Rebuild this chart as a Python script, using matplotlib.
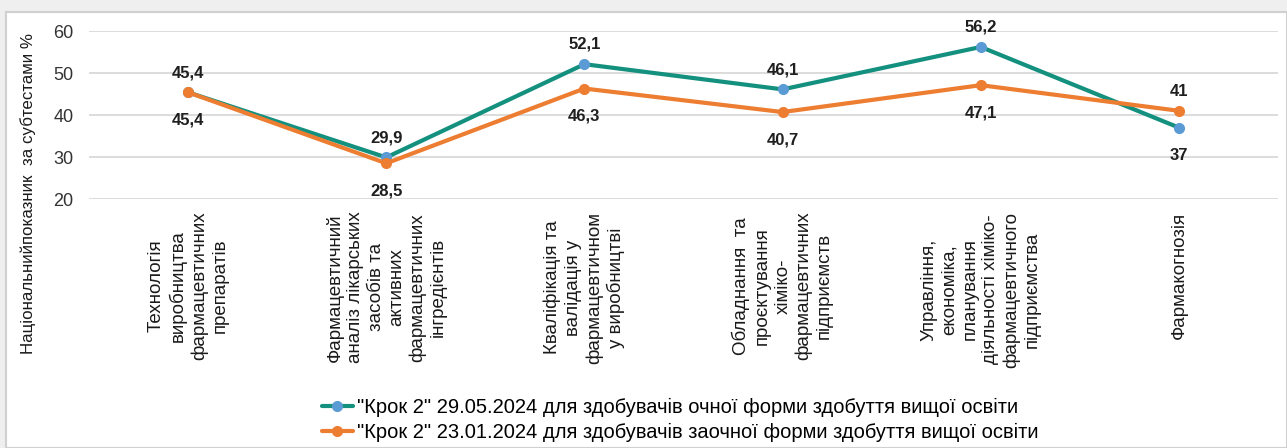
import matplotlib
matplotlib.use("Agg")
import matplotlib.pyplot as plt
from matplotlib.patches import Rectangle

plt.rcParams['font.family'] = ['Liberation Sans', 'DejaVu Sans']

categories = [
    "Технологія\nвиробництва\nфармацевтичних\nпрепаратів",
    "Фармацевтичний\nаналіз лікарських\nзасобів та\nактивних\nфармацевтичних\nінгредієнтів",
    "Кваліфікація та\nвалідація у\nфармацевтичном\nу виробництві",
    "Обладнання  та\nпроєктування\nхіміко-\nфармацевтичних\nпідприємств",
    "Управління,\nекономіка,\nпланування\nдіяльності хіміко-\nфармацевтичного\nпідприємства",
    "Фармакогнозія",
]
series1_name = '"Крок 2" 29.05.2024 для здобувачів очної форми здобуття вищої освіти'
series2_name = '"Крок 2" 23.01.2024 для здобувачів заочної форми здобуття вищої освіти'
series1 = [45.4, 29.9, 52.1, 46.1, 56.2, 37]
series2 = [45.4, 28.5, 46.3, 40.7, 47.1, 41]
s1_above = [True, True, True, True, True, False]
s2_above = [False, False, False, False, False, True]
yticks = [20, 30, 40, 50, 60]
ylabel = "Національнийпоказник  за субтестами %"

W, H = 1287, 448
fig = plt.figure(figsize=(W / 100, H / 100), dpi=100)
fig.patch.set_facecolor('#efefef')
bg = Rectangle((6 / W, 0), 1 - 6 / W, 1 - 12 / H, transform=fig.transFigure,
               facecolor='white', edgecolor='#d0d0d0', linewidth=1.5, zorder=-10)
fig.add_artist(bg)

ax = fig.add_axes([89 / W, 1 - 199 / H, (1278 - 89) / W, (199 - 31) / H])
ax.set_zorder(1)
ax.set_facecolor('none')
x = list(range(len(categories)))
teal = '#14907f'
orange = '#ed7d31'
ax.plot(x, series1, color=teal, lw=3, marker='o', ms=7, mfc='#5b9bd5', mec='#5b9bd5',
        label=series1_name, zorder=3, solid_capstyle='round')
ax.plot(x, series2, color=orange, lw=3, marker='o', ms=7, mfc=orange, mec=orange,
        label=series2_name, zorder=4, solid_capstyle='round')

def fmt(v):
    return ('%g' % v).replace('.', ',')

def put_labels(vals, above):
    for xi, v, up in zip(x, vals, above):
        ax.annotate(fmt(v), (xi, v), xytext=(0, 11 if up else -23), textcoords='offset points',
                    ha='center', va='baseline', fontsize=12, fontweight='bold', color='#1f1f1f')

put_labels(series1, s1_above)
put_labels(series2, s2_above)

ax.set_ylim(20, 60)
ax.set_xlim(-0.5, len(categories) - 0.5)
ax.set_yticks(yticks)
ax.set_yticklabels([str(t) for t in yticks], fontsize=13, color='#333333')
ax.tick_params(axis='y', length=0, pad=11)
ax.set_xticks(x)
ax.set_xticklabels([])
ax.tick_params(axis='x', length=0)
ax.grid(axis='y', color='#d9d9d9', lw=1.3)
ax.set_axisbelow(True)
for s in ax.spines.values():
    s.set_visible(False)

for xi, lab in zip(x, categories):
    ax.annotate(lab, (xi, 20), xytext=(0, -9), textcoords='offset points',
                rotation=90, ha='center', va='top', multialignment='center',
                fontsize=13.5, color='#1a1a1a', linespacing=1.27, annotation_clip=False)

fig.text(28 / W, 1 - 193 / H, ylabel, rotation=90, ha='center', va='center',
         fontsize=12.2, color='#1a1a1a')

fig.legend(loc='center', bbox_to_anchor=(680 / W, 1 - 420 / H), frameon=False,
           fontsize=14.5, handlelength=1.55, handletextpad=0.2, labelspacing=0.27,
           borderaxespad=0, borderpad=0)

fig.savefig('out.png', dpi=100, facecolor=fig.get_facecolor())
